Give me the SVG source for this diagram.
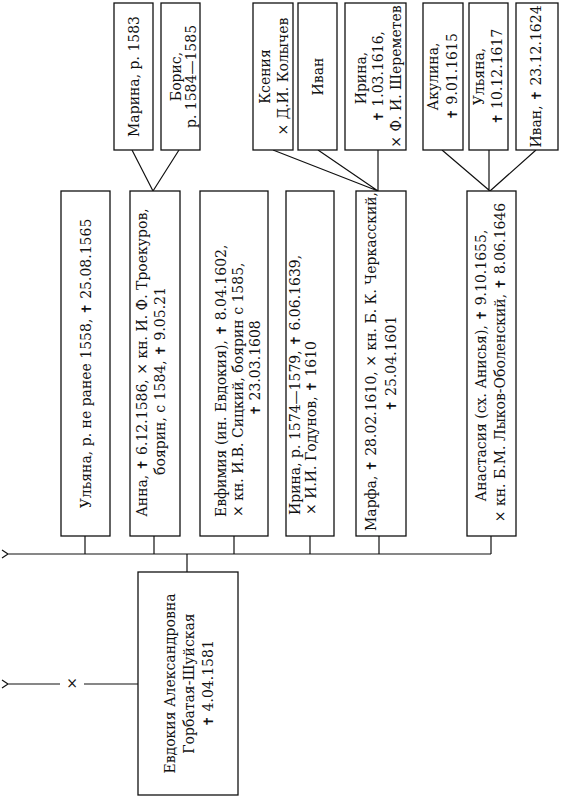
<svg xmlns="http://www.w3.org/2000/svg" width="561" height="800" viewBox="0 0 561 800">
<style>
.box{fill:#fff;stroke:#111;stroke-width:1.3}
.ln{stroke:#111;stroke-width:1.2;fill:none}
.t{font-family:"DejaVu Serif","Liberation Serif",serif;font-size:14px;fill:#111}
.m{text-anchor:middle}
.c{font-family:"DejaVu Sans",sans-serif;font-size:13px;font-weight:bold}
</style>
<rect width="561" height="800" fill="#fff"/>
<g id="connectors">
<path class="ln" d="M8,554 H491 M2,550 L8,554 L2,558"/>
<path class="ln" d="M85,536 V554 M154,536 V554 M234,536 V554 M310,536 V554 M379,536 V554 M491,536 V554 M187,554 V572"/>
<path class="ln" d="M8,684 H60 M84,684 H138 M2,680 L8,684 L2,688"/>
<text class="t m" x="72" y="688">×</text>
<path class="ln" d="M132,150 L153,191 M179,150 L153,191 M273,150 L378,191 M318,150 L378,191 M378,150 V191 M442,150 L490,191 M489,150 V191 M536,150 L490,191"/>
</g>
<g id="parent">
<rect class="box" x="138" y="572" width="100" height="223"/>
<text class="t m" transform="translate(175,683.5) rotate(-90)">Евдокия Александровна</text>
<text class="t m" transform="translate(194,683.5) rotate(-90)">Горбатая-Шуйская</text>
<text class="t m" transform="translate(213,683.5) rotate(-90)"><tspan class="c">✝</tspan> 4.04.1581</text>
</g>
<g id="c1">
<rect class="box" x="61" y="191" width="49" height="345"/>
<text class="t m" transform="translate(91,363.5) rotate(-90)">Ульяна, р. не ранее 1558, <tspan class="c">✝</tspan> 25.08.1565</text>
</g>
<g id="c2">
<rect class="box" x="130" y="191" width="50" height="345"/>
<text class="t m" transform="translate(147,362.5) rotate(-90)">Анна, <tspan class="c">✝</tspan> 6.12.1586, × кн. И. Ф. Троекуров,</text>
<text class="t m" transform="translate(165,381) rotate(-90)">боярин, с 1584, <tspan class="c">✝</tspan> 9.05.21</text>
</g>
<g id="c3">
<rect class="box" x="200" y="191" width="68" height="345"/>
<text class="t" transform="translate(226,517) rotate(-90)">Евфимия (ин. Евдокия), <tspan class="c">✝</tspan> 8.04.1602,</text>
<text class="t" transform="translate(243,517) rotate(-90)">× кн. И.В. Сицкий, боярин с 1585,</text>
<text class="t m" transform="translate(260,368) rotate(-90)"><tspan class="c">✝</tspan> 23.03.1608</text>
</g>
<g id="c4">
<rect class="box" x="286" y="191" width="48" height="345"/>
<text class="t" transform="translate(300,515) rotate(-90)">Ирина, р. 1574—1579, <tspan class="c">✝</tspan> 6.06.1639,</text>
<text class="t" transform="translate(316,515) rotate(-90)">× И.И. Годунов, <tspan class="c">✝</tspan> 1610</text>
</g>
<g id="c5">
<rect class="box" x="356" y="191" width="50" height="345"/>
<text class="t m" transform="translate(376,361.5) rotate(-90)">Марфа, <tspan class="c">✝</tspan> 28.02.1610, × кн. Б. К. Черкасский,</text>
<text class="t m" transform="translate(396,363.5) rotate(-90)"><tspan class="c">✝</tspan> 25.04.1601</text>
</g>
<g id="c6">
<rect class="box" x="467" y="191" width="49" height="345"/>
<text class="t m" transform="translate(486,365.5) rotate(-90)">Анастасия (сх. Анисья), <tspan class="c">✝</tspan> 9.10.1655,</text>
<text class="t m" transform="translate(505,362.5) rotate(-90)">× кн. Б.М. Лыков-Оболенский, <tspan class="c">✝</tspan> 8.06.1646</text>
</g>
<g id="g1">
<rect class="box" x="114" y="3" width="39" height="147"/>
<text class="t m" transform="translate(139,76.5) rotate(-90)">Марина, р. 1583</text>
</g>
<g id="g2">
<rect class="box" x="161" y="3" width="39" height="147"/>
<text class="t m" transform="translate(181,76.5) rotate(-90)">Борис,</text>
<text class="t m" transform="translate(196,76.5) rotate(-90)">р. 1584—1585</text>
</g>
<g id="g3">
<rect class="box" x="253" y="3" width="40" height="147"/>
<text class="t m" transform="translate(270,76.5) rotate(-90)">Ксения</text>
<text class="t m" transform="translate(288,76.5) rotate(-90)">× Д.И. Колычев</text>
</g>
<g id="g4">
<rect class="box" x="298" y="3" width="39" height="147"/>
<text class="t m" transform="translate(323,76.5) rotate(-90)">Иван</text>
</g>
<g id="g5">
<rect class="box" x="345" y="3" width="61" height="147"/>
<text class="t m" transform="translate(366,78) rotate(-90)">Ирина,</text>
<text class="t m" transform="translate(383,76.5) rotate(-90)"><tspan class="c">✝</tspan> 1.03.1616,</text>
<text class="t m" transform="translate(401,76.5) rotate(-90)">× Ф. И. Шереметев</text>
</g>
<g id="g6">
<rect class="box" x="423" y="3" width="40" height="147"/>
<text class="t m" transform="translate(438,76.5) rotate(-90)">Акулина,</text>
<text class="t m" transform="translate(457,76.5) rotate(-90)"><tspan class="c">✝</tspan> 9.01.1615</text>
</g>
<g id="g7">
<rect class="box" x="469" y="3" width="39" height="147"/>
<text class="t m" transform="translate(484,76.5) rotate(-90)">Ульяна,</text>
<text class="t m" transform="translate(502,76.5) rotate(-90)"><tspan class="c">✝</tspan> 10.12.1617</text>
</g>
<g id="g8">
<rect class="box" x="516" y="3" width="42" height="147"/>
<text class="t m" transform="translate(541,76.5) rotate(-90)">Иван, <tspan class="c">✝</tspan> 23.12.1624</text>
</g>
</svg>
